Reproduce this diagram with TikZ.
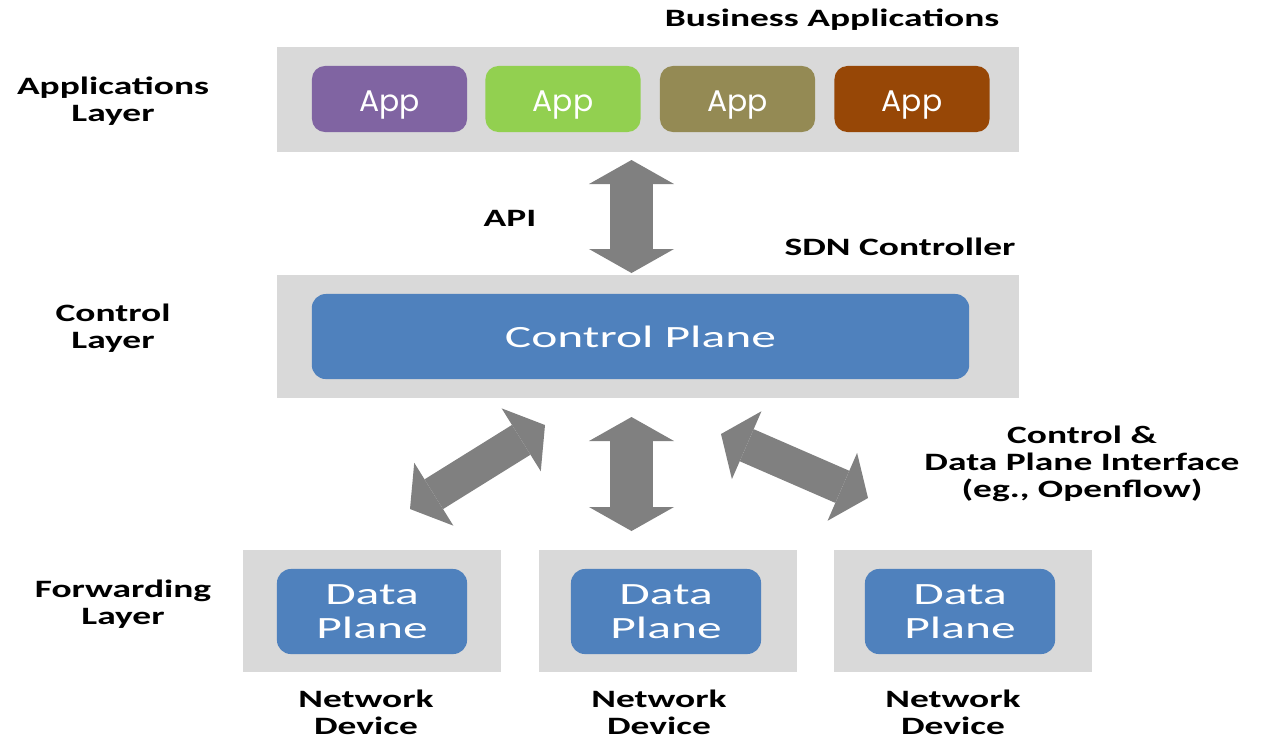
\documentclass[tikz,border=0pt]{standalone}
\usepackage{fontspec}
\usetikzlibrary{positioning,arrows.meta}
\newfontfamily\lblfont{Carlito}[FakeStretch=1.5]
\newfontfamily\boxfont{Carlito}[FakeStretch=1.6]
\newfontfamily\appfont{Poppins}
\definecolor{panelgray}{HTML}{D9D9D9}
\definecolor{arrowgray}{HTML}{808080}
\definecolor{planeblue}{HTML}{4F81BD}
\definecolor{appPurple}{HTML}{8064A2}
\definecolor{appGreen}{HTML}{92D050}
\definecolor{appOlive}{HTML}{948A54}
\definecolor{appBrown}{HTML}{974706}
\tikzset{
    panel/.style = {fill=panelgray, draw=none, inner sep=0pt},
    app/.style = {rounded corners=0.13cm, draw=none, inner sep=0pt, text=white,
        minimum width=1.55cm, minimum height=0.66cm, text height=0.30cm, text depth=0.05cm,
        font=\appfont\fontsize{8.5}{10}\selectfont},
    plane/.style = {rounded corners=0.14cm, fill=planeblue, draw=none, inner sep=0pt, text=white,
        align=center, font=\boxfont\fontsize{8.8}{9.7}\selectfont},
    lbl/.style = {align=center, inner sep=0pt, font=\lblfont\bfseries\fontsize{7.1}{7.7}\selectfont},
    bigarrow/.style = {draw=arrowgray, line width=0.43cm,
        {Triangle[length=0.24cm,width=0.85cm,line width=0pt]}-{Triangle[length=0.24cm,width=0.85cm,line width=0pt]}},
    slantarrow/.style = {draw=arrowgray, line width=0.35cm,
        {Triangle[length=0.28cm,width=0.74cm,line width=0pt]}-{Triangle[length=0.28cm,width=0.74cm,line width=0pt]}}
}
\begin{document}
\begin{tikzpicture}[x=0.01cm, y=-0.01cm]
    \useasboundingbox (0,0) rectangle (1264,738);

    \node[panel, minimum width=7.42cm, minimum height=1.05cm] (apps) at (648,99.5) {};
    \node[app, fill=appPurple] (a1) at (389.5,99) {App};
    \node[app, fill=appGreen, right=0.17cm of a1] (a2) {App};
    \node[app, fill=appOlive, right=0.18cm of a2] (a3) {App};
    \node[app, fill=appBrown, right=0.18cm of a3] (a4) {App};

    \node[panel, minimum width=7.42cm, minimum height=1.23cm] (ctrl) at (648,336.5) {};
    \node[plane, minimum width=6.57cm, minimum height=0.85cm] (cp) at (640.5,336.5) {Control Plane};

    \node[panel, minimum width=2.58cm, minimum height=1.22cm] (dev1) at (372,611) {};
    \node[panel, minimum width=2.58cm, minimum height=1.22cm, right=0.36cm of dev1] (dev2) {};
    \node[panel, minimum width=2.58cm, minimum height=1.22cm, right=0.36cm of dev2] (dev3) {};
    \node[plane, minimum width=1.90cm, minimum height=0.85cm] (dp1) at (372,611.5) {Data\\Plane};
    \node[plane, minimum width=1.90cm, minimum height=0.85cm] (dp2) at (666,611.5) {Data\\Plane};
    \node[plane, minimum width=1.90cm, minimum height=0.85cm] (dp3) at (960,611.5) {Data\\Plane};

    \node[lbl] (ba) at (832,20) {Business Applications};
    \node[lbl] (al) at (113,101) {Applications\\Layer};
    \node[lbl] (api) at (510,218) {API};
    \node[lbl] (sdn) at (900,247) {SDN Controller};
    \node[lbl] (cl) at (113,328) {Control\\Layer};
    \node[lbl] (cdi) at (1082,464) {Control \&\\Data Plane Interface\\(eg., Openflow)};
    \node[lbl] (fl) at (123,604) {Forwarding\\Layer};
    \node[lbl] (nd1) at (366,712) {Network\\Device};
    \node[lbl] (nd2) at (659,712) {Network\\Device};
    \node[lbl] (nd3) at (953,712) {Network\\Device};

    \coordinate (apiTop) at (631.5,160);
    \coordinate (apiBot) at (631.5,273);
    \coordinate (midTop) at (631.5,417);
    \coordinate (midBot) at (631.5,531);
    \coordinate (leftTop) at (545,425);
    \coordinate (leftBot) at (410,509);
    \coordinate (rightTop) at (721,434);
    \coordinate (rightBot) at (868,498);

    \draw[bigarrow] (apiTop) -- (apiBot);
    \draw[bigarrow] (midTop) -- (midBot);
    \draw[slantarrow] (leftTop) -- (leftBot);
    \draw[slantarrow] (rightTop) -- (rightBot);
\end{tikzpicture}
\end{document}
